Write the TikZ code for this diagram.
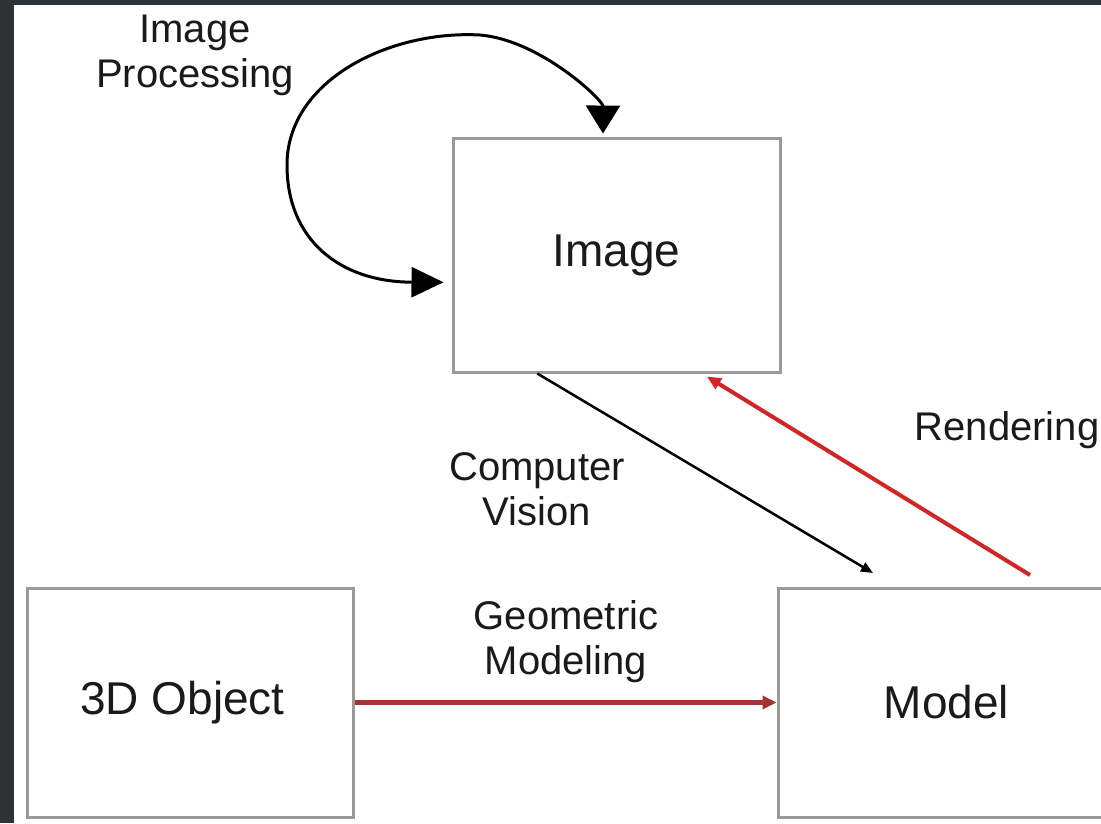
\documentclass[tikz,border=0pt]{standalone}
\usepackage{fontspec}
\setmainfont{Liberation Sans}
\usetikzlibrary{arrows.meta,calc}
\definecolor{darkband}{HTML}{2C3237}
\definecolor{boxgray}{HTML}{9A9A9A}
\definecolor{txt}{HTML}{1A1A1A}
\definecolor{redA}{HTML}{D02626}
\definecolor{redB}{HTML}{A33434}
\tikzset{
  boxnode/.style={draw=boxgray, line width=3pt, fill=white, text=txt, inner sep=0pt,
    font=\fontsize{46}{52}\selectfont},
  boxtext/.style={text=txt, inner sep=0pt, font=\fontsize{46}{52}\selectfont},
  lbl/.style={text=txt, align=center, inner sep=0pt, font=\fontsize{40}{45}\selectfont},
}
\begin{document}
\begin{tikzpicture}[x=1pt,y=-1pt]
\clip (0,0) rectangle (1101,823);
\fill[white] (0,0) rectangle (1101,823);
\fill[darkband] (0,0) rectangle (14,823);
\fill[darkband] (0,0) rectangle (1101,5);

\node[boxnode, minimum width=327pt, minimum height=234pt] (img) at (616.5,255) {Image};
\node[boxnode, minimum width=326pt, minimum height=229pt] (obj) at (190,702.5) {};
\node[boxtext] (objtext) at (182.5,702.5) {3D Object};
\node[boxnode, minimum width=337pt, minimum height=229pt] (mdl) at (946.5,702.5) {Model};

\node[lbl] (lip) at (195,55) {Image\\Processing};
\node[lbl] (lcv) at (537,489) {Computer\\Vision};
\node[lbl] (lgm) at (566,642) {Geometric\\Modeling};
\node[lbl] (lrd) at (1007,430) {Rendering};

% image processing loop
\coordinate (ipL) at ($(img.north west)!0.615!(img.south west)+(-8,0)$);
\coordinate (ipT) at ($(img.north west)!0.459!(img.north east)+(0,-3)$);
\draw[line width=3pt, black, {Triangle[length=32pt,width=30pt]}-{Triangle[length=28pt,width=34pt]}]
  (ipL) .. controls (340,282) and (287,240) .. (287,165)
        .. controls (287,80) and (390,30) .. (480,35)
        .. controls (540,40) and (603,100) .. (ipT);

% computer vision
\coordinate (cvS) at ($(img.south west)!0.26!(img.south east)$);
\coordinate (cvE) at (873,573);
\draw[line width=2.5pt, black, -{Triangle[length=12pt,width=10pt]}] (cvS) -- (cvE);

% rendering
\coordinate (rdS) at (1030,575);
\coordinate (rdE) at ($(img.south west)!0.774!(img.south east)+(0,3)$);
\draw[line width=4pt, redA, -{Triangle[length=14pt,width=12pt]}] (rdS) -- (rdE);

% geometric modeling
\draw[line width=5pt, redB, -{Triangle[length=14pt,width=13pt]}] (obj.east) -- (mdl.west);
\end{tikzpicture}
\end{document}
